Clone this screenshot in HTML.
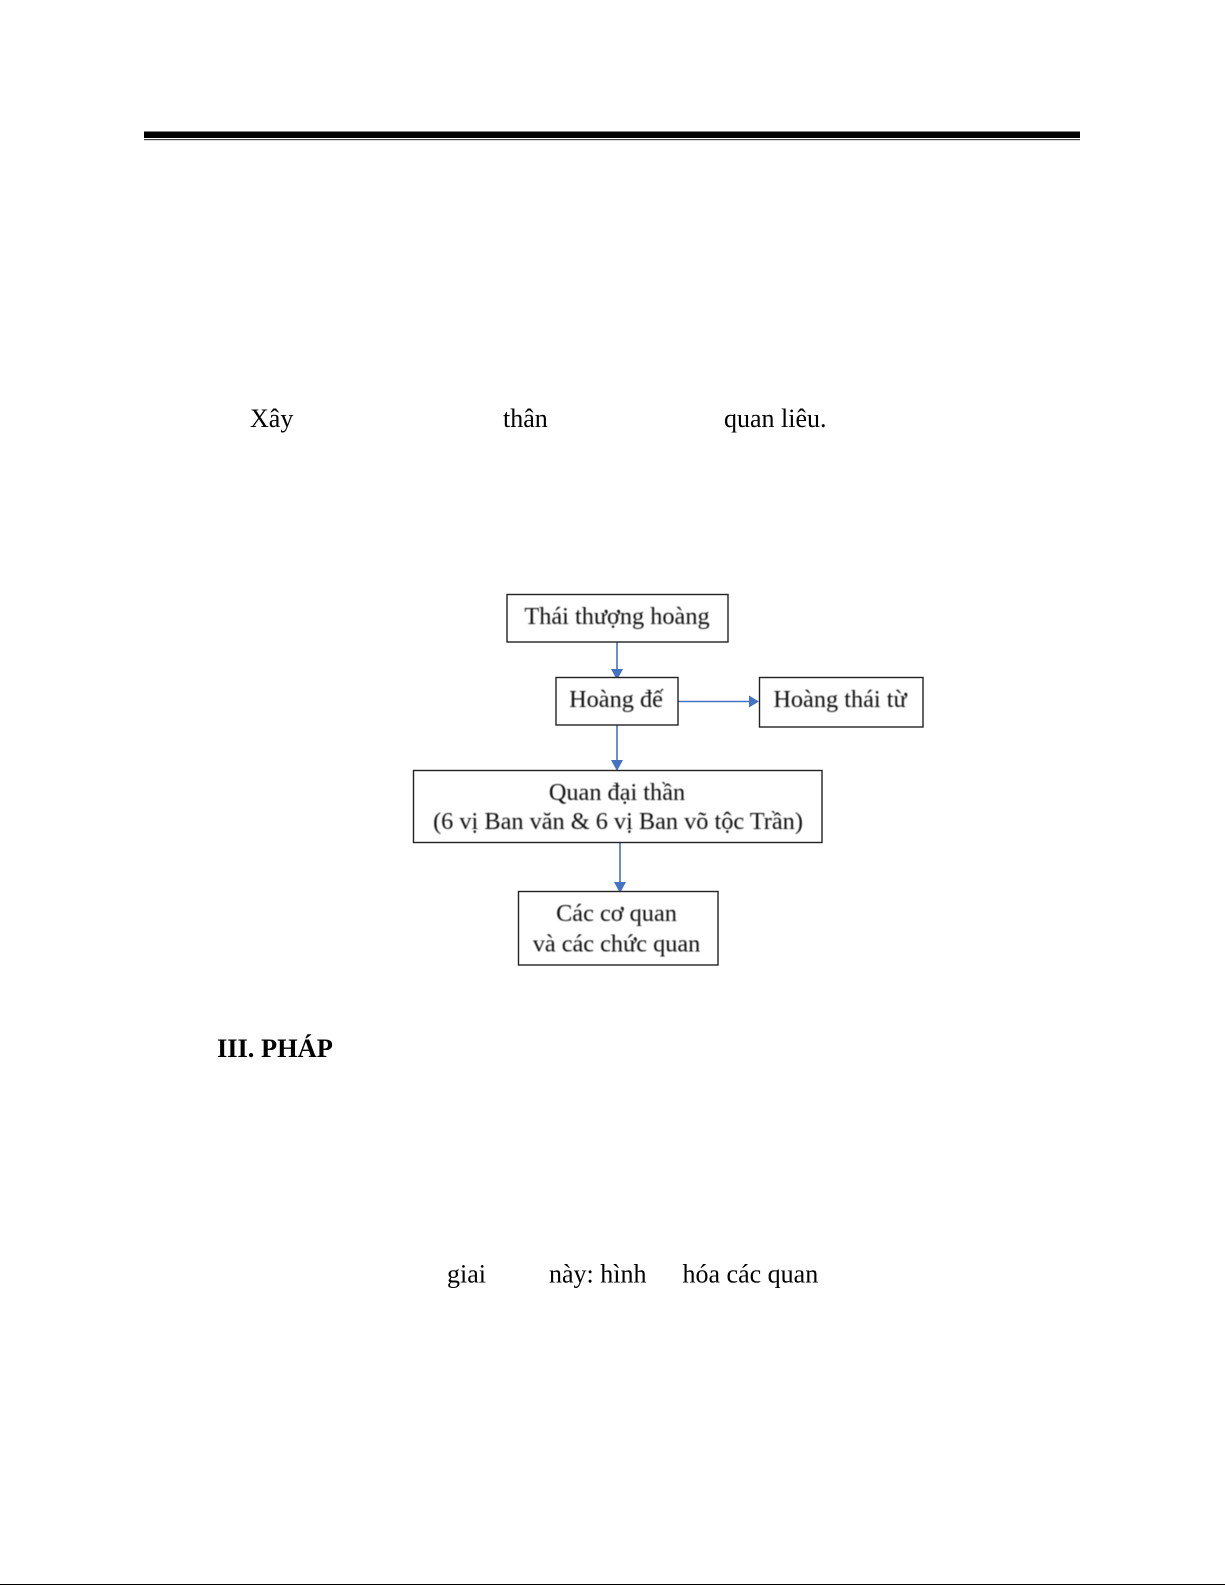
<!DOCTYPE html>
<html><head><meta charset="utf-8"><style>
html,body{margin:0;padding:0;background:#fff;width:1225px;height:1585px;overflow:hidden}
svg{display:block}
.b{font-family:"Liberation Serif",serif;font-size:26px;fill:#000}
.d{font-family:"Liberation Serif",serif;font-size:24.3px;fill:#111;text-anchor:middle;filter:url(#s)}
.r{fill:#fff;stroke:#222;stroke-width:1.4}
.l{stroke:#4472c4;stroke-width:1.6;fill:none}
.a{fill:#4472c4}
</style></head><body>
<svg width="1225" height="1585" viewBox="0 0 1225 1585" xmlns="http://www.w3.org/2000/svg">
<defs><filter id="s" x="-5%" y="-20%" width="110%" height="140%"><feGaussianBlur stdDeviation="0.4"/></filter></defs>
<rect x="144" y="131.500" width="936" height="6.500" fill="#000"/>
<rect x="144" y="139" width="936" height="1.2" fill="#444"/>
<rect x="0" y="1584" width="1225" height="1" fill="#000"/>
<text class="b" x="250" y="427">Xây</text>
<text class="b" x="503" y="427">thân</text>
<text class="b" x="724" y="427">quan liêu.</text>
<text class="b" x="217" y="1057" font-weight="bold" font-size="26.4" style="font-size:26.4px">III. PHÁP</text>
<text class="b" x="447" y="1282.500">giai</text>
<text class="b" x="549" y="1282.500">này: hình</text>
<text class="b" x="682.500" y="1282.500">hóa các quan</text>
<line class="l" x1="617" y1="642" x2="617" y2="672"/>
<polygon class="a" points="611,669 623,669 617,680"/>
<line class="l" x1="678" y1="701.500" x2="752" y2="701.500"/>
<polygon class="a" points="749,695.500 749,707.500 759,701.500"/>
<line class="l" x1="617" y1="725" x2="617" y2="763"/>
<polygon class="a" points="611,760 623,760 617,771"/>
<line class="l" x1="620" y1="842" x2="620" y2="885"/>
<polygon class="a" points="614,882 626,882 620,893"/>
<rect class="r" x="507" y="594.500" width="221" height="47.500"/>
<rect class="r" x="556" y="677.500" width="122" height="47.500"/>
<rect class="r" x="759.500" y="677.500" width="163.500" height="49.500"/>
<rect class="r" x="413.500" y="770.500" width="408.500" height="72"/>
<rect class="r" x="518.500" y="891.500" width="199.500" height="73.500"/>
<text class="d" x="617" y="624">Thái thượng hoàng</text>
<text class="d" x="616" y="707">Hoàng đế</text>
<text class="d" x="840" y="707">Hoàng thái từ</text>
<text class="d" x="617" y="800">Quan đại thần</text>
<text class="d" x="618" y="829">(6 vị Ban văn &amp; 6 vị Ban võ tộc Trần)</text>
<text class="d" x="616.500" y="921">Các cơ quan</text>
<text class="d" x="616.500" y="951.500">và các chức quan</text>
</svg>
</body></html>
